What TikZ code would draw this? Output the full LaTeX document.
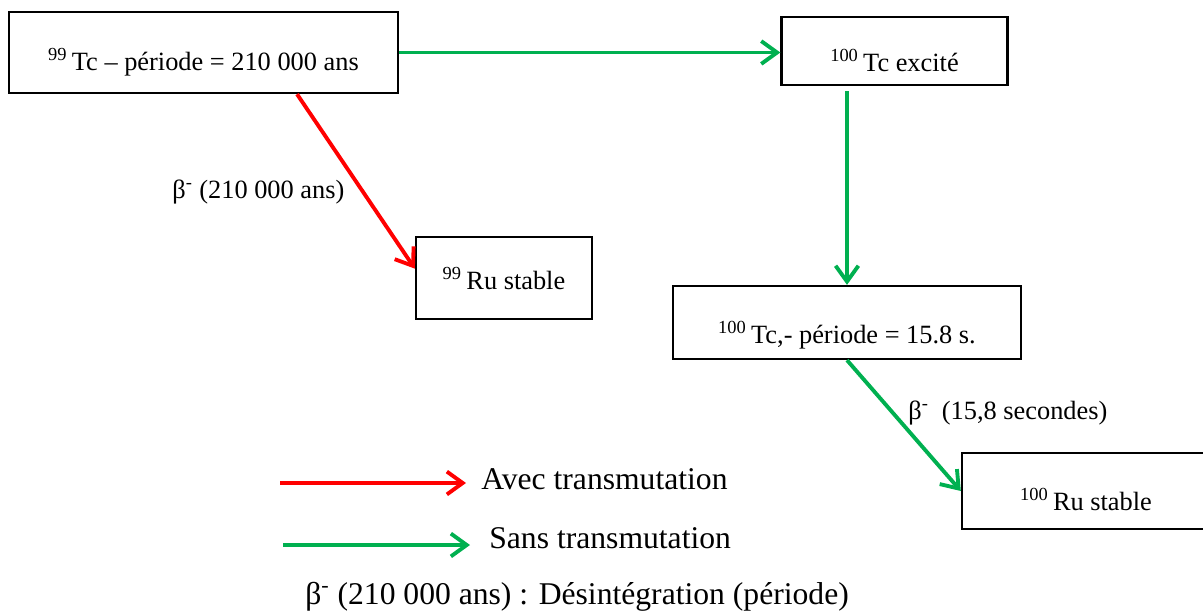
\documentclass[tikz,border=0pt]{standalone}
\usepackage{fontspec}
\setmainfont{Liberation Serif}
\usetikzlibrary{arrows.meta}
\definecolor{vert}{RGB}{0,176,80}
\definecolor{rouge}{RGB}{255,0,0}
\tikzset{
  fleche/.style={line width=2.2pt,-{Straight Barb[length=9pt,width=13pt,line width=2.2pt]}},
  boite/.style={draw,line width=1.3pt,inner sep=0pt,text depth=0pt,font=\fontsize{15}{18}\selectfont},
  lbl/.style={inner sep=0pt,anchor=base west}
}
\begin{document}
\begin{tikzpicture}
        \path[use as bounding box,clip] (0,0) rectangle (24.06,-12.2);
        \begin{scope}[every node/.style={boite}]
          \node[minimum width=7.78cm,minimum height=1.62cm,text height=0.7cm] (Tc99) at (4.07,-1.05) {\textsuperscript{99}\,Tc -- période = 210 000 ans};
          \node[minimum width=4.52cm,minimum height=1.36cm,text height=0.8cm] (Tc100e) at (17.89,-1.02) {\textsuperscript{100}\,Tc excité};
          \node[minimum width=3.52cm,minimum height=1.64cm,text height=0.44cm] (Ru99) at (10.08,-5.56) {\textsuperscript{99}\,Ru stable};
          \node[minimum width=6.96cm,minimum height=1.46cm,text height=0.82cm] (Tc100) at (16.94,-6.45) {\textsuperscript{100}\,Tc,- période = 15.8 s.};
          \node[minimum width=4.96cm,minimum height=1.52cm,text height=0.76cm] (Ru100) at (21.72,-9.82) {\textsuperscript{100}\,Ru stable};
        \end{scope}
        \begin{scope}[every node/.style={lbl,font=\fontsize{15}{18}\selectfont}]
          \node (betaTc99) at (3.44,-3.96) {β\textsuperscript{-} (210 000 ans)};
          \node (betaTc100) at (18.16,-8.38) {β\textsuperscript{-}~ (15,8 secondes)};
        \end{scope}
        \begin{scope}[every edge/.style={draw=vert,fleche}]
          \path (Tc99.east) edge (Tc99.east -| Tc100e.west);
          \path (Tc100.north |- Tc100e.south) edge[shorten <=0.1cm] (Tc100.north);
          \path (Tc100.south) edge (Ru100.west);
        \end{scope}
        \path (Tc99.-24) edge[draw=rouge,fleche] (Ru99.174);
        % legende
        \begin{scope}[every node/.style={lbl,font=\fontsize{18}{21}\selectfont}]
          \node (avec) at (9.62,-9.78) {Avec transmutation};
          \node (sans) at (9.78,-10.96) {Sans transmutation};
          \node (legende) at (6.10,-12.08) {β\textsuperscript{-} (210 000 ans) : Désintégration (période)};
        \end{scope}
        \coordinate (avecQueue) at (5.6,-9.66);
        \coordinate (sansQueue) at (5.66,-10.9);
        \draw[rouge,fleche,shorten >=0.3cm] (avecQueue) -- (avecQueue -| avec.west);
        \draw[vert,fleche,shorten >=0.38cm] (sansQueue) -- (sansQueue -| sans.west);
\end{tikzpicture}
\end{document}
